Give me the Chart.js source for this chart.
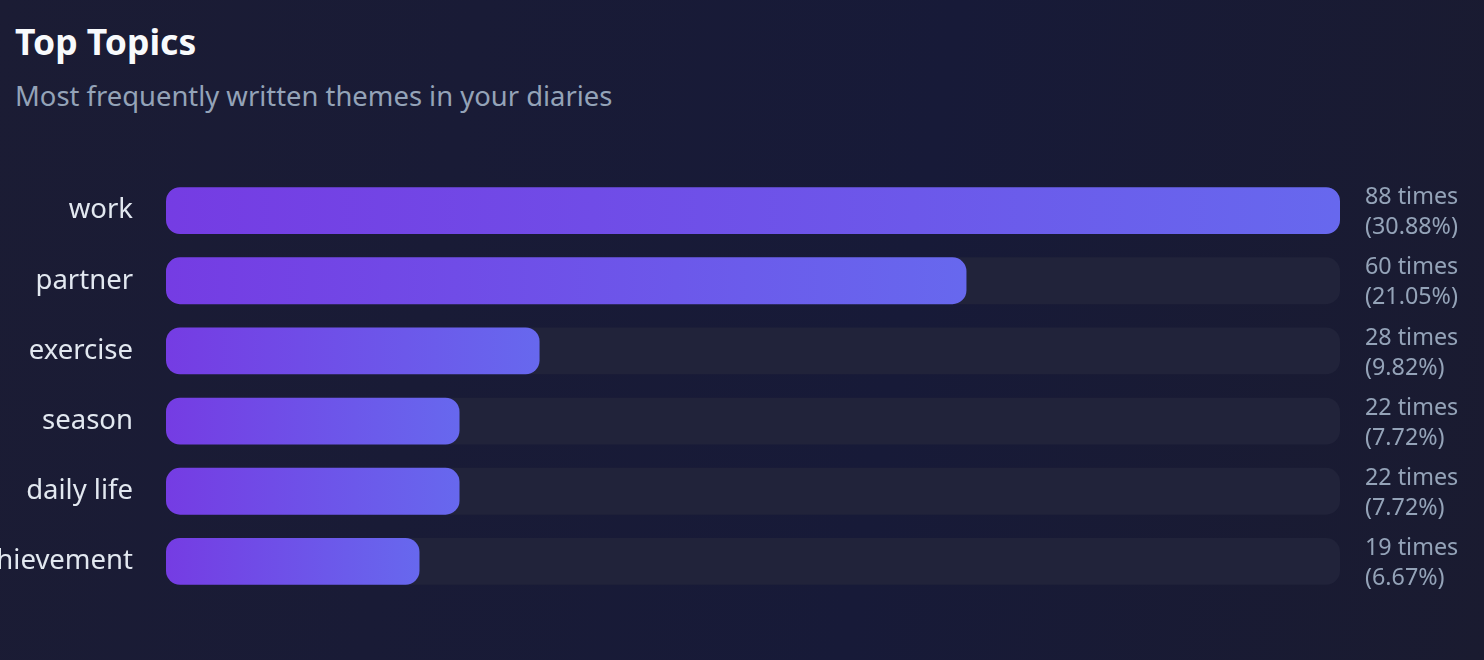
<!DOCTYPE html>
<html><head><meta charset="utf-8">
<script src="https://cdn.jsdelivr.net/npm/chart.js@4"></script>
<style>
html,body{margin:0;padding:0;width:1484px;height:660px;overflow:hidden;background:linear-gradient(100deg,#1b1c34 0%,#171a38 60%,#1a1b30 100%);font-family:"Noto Sans",sans-serif;}
#t{position:absolute;left:15px;top:17px;font-size:35.5px;font-weight:700;color:#f8fafc;}
#s{position:absolute;left:15px;top:77px;font-size:27.4px;color:#94a3b8;}
#c{position:absolute;left:0;top:134px;}
</style></head><body>
<div id="t">Top Topics</div>
<div id="s">Most frequently written themes in your diaries</div>
<canvas id="c" width="1484" height="504" style="width:1484px;height:504px"></canvas>
<script>
const topics=["work","partner","exercise","season","daily life","achievement"];
const counts=[88,60,28,22,22,19];
const percents=["30.88%","21.05%","9.82%","7.72%","7.72%","6.67%"];
const maxCount=88;
const track=topics.map(()=>maxCount);
const rightLabels={id:"rl",afterDatasetsDraw(ch){const c=ch.ctx,y=ch.scales.y;c.save();c.fillStyle="#94a3b8";c.font="23.3px 'Noto Sans'";c.textAlign="left";c.textBaseline="middle";
topics.forEach((t,i)=>{const py=y.getPixelForValue(i);c.fillText(counts[i]+" times",ch.chartArea.right+25,py-13);c.fillText("("+percents[i]+")",ch.chartArea.right+25,py+17);});c.restore();}};
new Chart(document.getElementById("c"),{type:"bar",
data:{labels:topics,datasets:[
{data:counts,order:0,borderRadius:14,borderSkipped:false,barPercentage:0.667,categoryPercentage:1,
backgroundColor(ctx){const ch=ctx.chart;if(!ch.chartArea)return"#7040e8";const x=ch.scales.x;const x0=x.getPixelForValue(0),x1=x.getPixelForValue(counts[ctx.dataIndex]);const g=ch.ctx.createLinearGradient(x0,0,x1,0);g.addColorStop(0,"#753ce3");g.addColorStop(1,"#6768ee");return g;}},
{data:track,order:1,backgroundColor:"#21233a",borderRadius:14,borderSkipped:false,barPercentage:0.667,categoryPercentage:1}
]},
options:{indexAxis:"y",responsive:false,animation:false,devicePixelRatio:1,
layout:{padding:{right:144,left:0,top:0,bottom:0}},
datasets:{bar:{grouped:false}},
plugins:{legend:{display:false},tooltip:{enabled:false}},
scales:{x:{display:false,min:0,max:maxCount},
y:{afterFit(s){s.width=166;},grid:{display:false},border:{display:false},ticks:{color:"#e2e8f0",font:{size:27.5,family:"Noto Sans"},padding:25}}}},
plugins:[rightLabels]});
</script></body></html>
